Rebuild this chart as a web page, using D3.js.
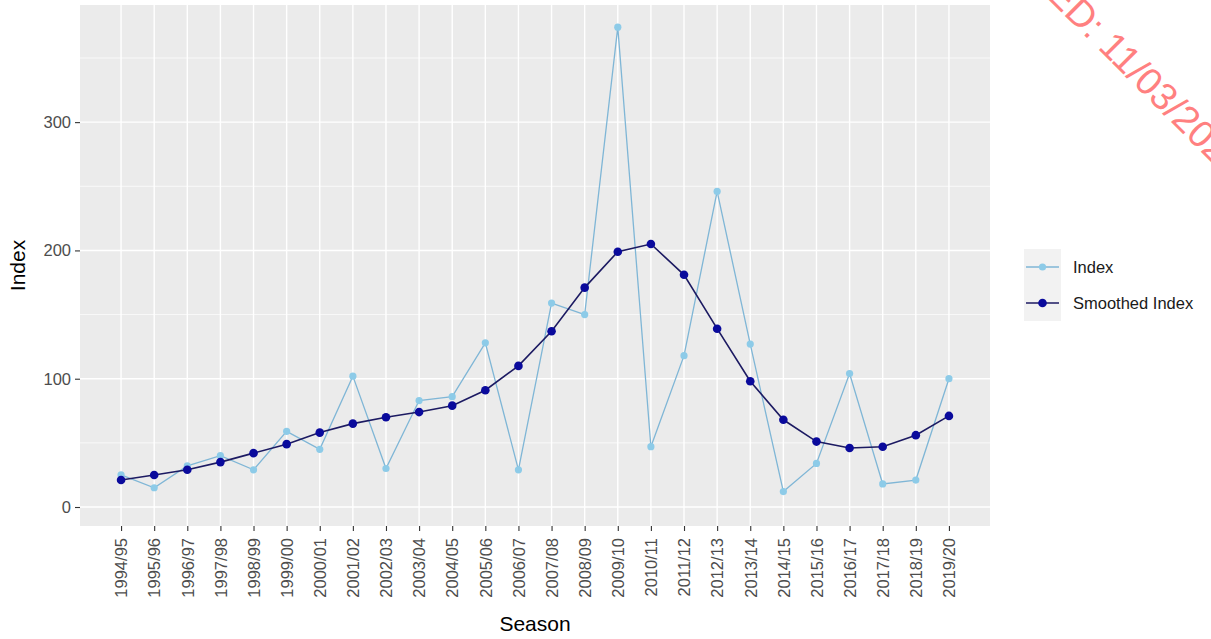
<!DOCTYPE html>
<html>
<head>
<meta charset="utf-8">
<script src="https://cdn.jsdelivr.net/npm/d3@7"></script>
<style>
  html, body { margin: 0; padding: 0; background: #ffffff; }
  svg { display: block; font-family: "Liberation Sans", Arial, sans-serif; }
</style>
</head>
<body>
<svg id="chart" width="1211" height="639"></svg>
<script>
// ---- data ----
const seasons = ["1994/95","1995/96","1996/97","1997/98","1998/99","1999/00","2000/01","2001/02","2002/03","2003/04","2004/05","2005/06","2006/07","2007/08","2008/09","2009/10","2010/11","2011/12","2012/13","2013/14","2014/15","2015/16","2016/17","2017/18","2018/19","2019/20"];
const indexValues = [25, 15, 32, 40, 29, 59, 45, 102, 30, 83, 86, 128, 29, 159, 150, 374, 47, 118, 246, 127, 12, 34, 104, 18, 21, 100];
const smoothedValues = [21, 25, 29, 35, 42, 49, 58, 65, 70, 74, 79, 91, 110, 137, 171, 199, 205, 181, 139, 98, 68, 51, 46, 47, 56, 71];
const yMajorTicks = [0, 100, 200, 300];
const yMinorTicks = [50, 150, 250, 350];
const seriesNames = ["Index", "Smoothed Index"];
const watermarkPrefix = "PRINTED:\u00A0";
const watermarkDate = "11/03/2024";

// ---- layout ----
const panel = { left: 80, right: 990, top: 5, bottom: 526 };
const svg = d3.select("#chart");

const x = d3.scalePoint().domain(seasons).range([panel.left, panel.right]).padding(1.24);
const y = d3.scaleLinear().domain([-14.8, 391.3]).range([panel.bottom, panel.top]);

const colIdxLine = "#7fb6d6", colIdxPt = "#8dcbe8";
const colSmLine = "#1c1a62", colSmPt = "#0a0a9c";

// panel background
svg.append("rect")
  .attr("x", panel.left).attr("y", panel.top)
  .attr("width", panel.right - panel.left).attr("height", panel.bottom - panel.top)
  .attr("fill", "#EBEBEB");

const grid = svg.append("g");
grid.selectAll(".minor").data(yMinorTicks).join("line")
  .attr("x1", panel.left).attr("x2", panel.right)
  .attr("y1", d => y(d)).attr("y2", d => y(d))
  .attr("stroke", "#ffffff").attr("stroke-width", 0.7);
grid.selectAll(".major").data(yMajorTicks).join("line")
  .attr("x1", panel.left).attr("x2", panel.right)
  .attr("y1", d => y(d)).attr("y2", d => y(d))
  .attr("stroke", "#ffffff").attr("stroke-width", 1.4);
grid.selectAll(".vmajor").data(seasons).join("line")
  .attr("x1", d => x(d)).attr("x2", d => x(d))
  .attr("y1", panel.top).attr("y2", panel.bottom)
  .attr("stroke", "#ffffff").attr("stroke-width", 1.4);

// axes
const yAxis = svg.append("g")
  .attr("transform", `translate(${panel.left},0)`)
  .call(d3.axisLeft(y).tickValues(yMajorTicks).tickSize(5).tickPadding(4));
yAxis.select(".domain").remove();
yAxis.selectAll(".tick line").attr("stroke", "#333333").attr("stroke-width", 1.1);
yAxis.selectAll(".tick text").attr("fill", "#4D4D4D").attr("font-size", "16.5px")
  .attr("font-family", "Liberation Sans, Arial, sans-serif");

const xAxis = svg.append("g")
  .attr("transform", `translate(0,${panel.bottom})`)
  .call(d3.axisBottom(x).tickSize(5).tickPadding(4));
xAxis.select(".domain").remove();
xAxis.selectAll(".tick line").attr("stroke", "#333333").attr("stroke-width", 1.1);
xAxis.selectAll(".tick text")
  .attr("fill", "#4D4D4D").attr("font-size", "16.5px")
  .attr("font-family", "Liberation Sans, Arial, sans-serif")
  .attr("text-anchor", "end")
  .attr("transform", "rotate(-90)")
  .attr("x", -12).attr("y", 0).attr("dy", "0.35em");

// axis titles
svg.append("text")
  .attr("x", (panel.left + panel.right) / 2).attr("y", 631)
  .attr("text-anchor", "middle").attr("font-size", "21px").attr("fill", "#000")
  .text("Season");
svg.append("text")
  .attr("transform", `translate(25,${(panel.top + panel.bottom) / 2}) rotate(-90)`)
  .attr("text-anchor", "middle").attr("font-size", "21px").attr("fill", "#000")
  .text("Index");

// series
const line = d3.line().x((d, i) => x(seasons[i])).y(d => y(d));
svg.append("path").datum(indexValues)
  .attr("d", line).attr("fill", "none").attr("stroke", colIdxLine).attr("stroke-width", 1.3);
svg.append("g").selectAll("circle").data(indexValues).join("circle")
  .attr("cx", (d, i) => x(seasons[i])).attr("cy", d => y(d)).attr("r", 3.6)
  .attr("fill", colIdxPt);

svg.append("path").datum(smoothedValues)
  .attr("d", line).attr("fill", "none").attr("stroke", colSmLine).attr("stroke-width", 1.6);
svg.append("g").selectAll("circle").data(smoothedValues).join("circle")
  .attr("cx", (d, i) => x(seasons[i])).attr("cy", d => y(d)).attr("r", 4.3)
  .attr("fill", colSmPt);

// legend
const legend = svg.append("g").attr("transform", "translate(1024,249)");
const keyH = 36, keyW = 37;
const lg = legend.selectAll("g").data(seriesNames).join("g")
  .attr("transform", (d, i) => `translate(0,${i * keyH})`);
lg.append("rect").attr("width", keyW).attr("height", keyH).attr("fill", "#F2F2F2");
lg.append("line").attr("x1", 2).attr("x2", keyW - 2).attr("y1", keyH / 2).attr("y2", keyH / 2)
  .attr("stroke", (d, i) => i === 0 ? colIdxLine : colSmLine).attr("stroke-width", (d, i) => i === 0 ? 1.3 : 1.6);
lg.append("circle").attr("cx", keyW / 2).attr("cy", keyH / 2).attr("r", (d, i) => i === 0 ? 3.6 : 4.3)
  .attr("fill", (d, i) => i === 0 ? colIdxPt : colSmPt);
lg.append("text").attr("x", keyW + 12).attr("y", keyH / 2).attr("dy", "0.35em")
  .attr("font-size", "16.5px").attr("fill", "#1a1a1a")
  .text(d => d);

// watermark
const wm = svg.append("g").attr("transform", "translate(1097,48) rotate(45)")
  .attr("fill", "#FF8080").attr("font-size", "38px");
wm.append("text").attr("text-anchor", "end").text(watermarkPrefix);
wm.append("text").attr("text-anchor", "start").text(watermarkDate);
</script>
</body>
</html>
